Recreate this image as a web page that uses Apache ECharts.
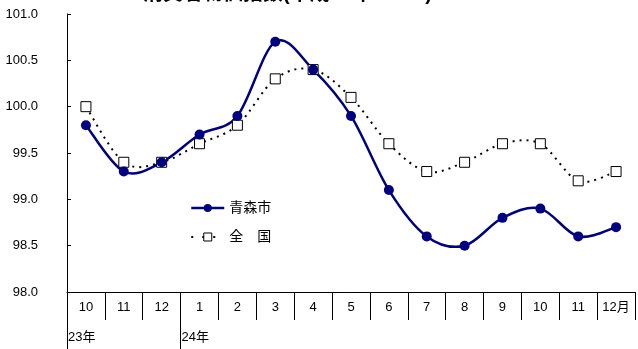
<!DOCTYPE html>
<html>
<head>
<meta charset="utf-8">
<script src="https://cdn.jsdelivr.net/npm/echarts@6/dist/echarts.min.js"></script>
<style>
  html, body { margin: 0; padding: 0; background: #fff; }
  #chart { width: 638px; height: 349px; }
</style>
</head>
<body>
<div id="chart"></div>
<script>
// Consumer price index, Aomori city vs. national
const months = ['10', '11', '12', '1', '2', '3', '4', '5', '6', '7', '8', '9', '10', '11', '12月'];
// year markers sit on the category boundaries (16 boundaries for 15 months)
const yearMarks = ['23年', '', '', '24年', '', '', '', '', '', '', '', '', '', '', '', ''];
const aomori = [99.8, 99.3, 99.4, 99.7, 99.9, 100.7, 100.4, 99.9, 99.1, 98.6, 98.5, 98.8, 98.9, 98.6, 98.7];
const national = [100.0, 99.4, 99.4, 99.6, 99.8, 100.3, 100.4, 100.1, 99.6, 99.3, 99.4, 99.6, 99.6, 99.2, 99.3];
const seriesNames = ['青森市', '全　国'];
const titleText = '消費者物価指数(平成22年＝100)';

const FONT = '"Liberation Sans", Arial, "Noto Sans CJK JP", sans-serif';
const NAVY = '#000080';
const chart = echarts.init(document.getElementById('chart'), null, { renderer: 'canvas' });

const grid = { left: 67, top: 14, width: 577, height: 278 };

// Catmull-Rom spline through the projected points, written as cubic Beziers
function splinePath(values, api) {
  const pts = values.map((v, i) => api.coord([i, v]));
  let d = 'M' + pts[0][0] + ' ' + pts[0][1];
  for (let i = 0; i < pts.length - 1; i++) {
    const p0 = pts[i - 1] || pts[i];
    const p1 = pts[i];
    const p2 = pts[i + 1];
    const p3 = pts[i + 2] || p2;
    const c1x = p1[0] + (p2[0] - p0[0]) / 6, c1y = p1[1] + (p2[1] - p0[1]) / 6;
    const c2x = p2[0] - (p3[0] - p1[0]) / 6, c2y = p2[1] - (p3[1] - p1[1]) / 6;
    d += ' C' + c1x + ' ' + c1y + ' ' + c2x + ' ' + c2y + ' ' + p2[0] + ' ' + p2[1];
  }
  return d;
}

function curveSeries(values, style, z) {
  return {
    type: 'custom',
    coordinateSystem: 'cartesian2d',
    xAxisIndex: 0,
    yAxisIndex: 0,
    silent: true,
    z: z,
    data: [[0, values[0]]],
    renderItem: (params, api) => ({
      type: 'path',
      shape: { pathData: splinePath(values, api) },
      style: Object.assign({ fill: null }, style)
    })
  };
}

chart.setOption({
  animation: false,
  backgroundColor: '#fff',
  textStyle: { fontFamily: FONT, color: '#000' },
  title: {
    text: titleText,
    left: 143,
    top: -16,
    padding: 0,
    textStyle: { fontFamily: FONT, fontSize: 20, fontWeight: 'bold', color: '#000' }
  },
  legend: {
    orient: 'vertical',
    left: 190,
    top: 201,
    padding: 0,
    itemGap: 15,
    itemWidth: 33,
    itemHeight: 10,
    textStyle: { fontFamily: FONT, fontSize: 14, color: '#000' },
    data: [
      {
        name: seriesNames[0],
        lineStyle: { opacity: 1, color: NAVY, width: 2.5 },
        itemStyle: { color: NAVY }
      },
      {
        name: seriesNames[1],
        lineStyle: { opacity: 1, color: '#000', width: 2, type: [2, 9] },
        itemStyle: { color: '#fff', borderColor: '#000', borderWidth: 1 }
      }
    ]
  },
  grid: [grid],
  xAxis: [
    {
      type: 'category',
      data: months,
      position: 'bottom',
      offset: 0,
      boundaryGap: true,
      axisLine: { show: true, lineStyle: { color: '#000', width: 1 } },
      axisTick: { show: true, interval: 0, length: 28, lineStyle: { color: '#000', width: 1 } },
      axisLabel: { color: '#000', fontSize: 13, margin: 9, fontFamily: FONT, interval: 0 }
    },
    {
      // year labels and the long year-boundary lines
      type: 'category',
      data: yearMarks,
      position: 'bottom',
      offset: 0,
      boundaryGap: false,
      axisLine: { show: false },
      axisTick: {
        show: true,
        length: 58,
        interval: (i) => yearMarks[i] !== '',
        lineStyle: { color: '#000' }
      },
      axisLabel: {
        interval: 0,
        align: 'left',
        margin: 39,
        padding: [0, 0, 0, 1],
        color: '#000',
        fontSize: 13,
        fontFamily: FONT
      }
    }
  ],
  yAxis: {
    type: 'value',
    min: 98,
    max: 101,
    interval: 0.5,
    splitLine: { show: false },
    axisLine: { show: true, lineStyle: { color: '#000', width: 1 } },
    axisTick: { show: true, inside: true, length: 4, lineStyle: { color: '#000' } },
    axisLabel: {
      color: '#000',
      fontSize: 13,
      margin: 29,
      fontFamily: FONT,
      formatter: (v) => v.toFixed(1)
    }
  },
  series: [
    curveSeries(national, { stroke: '#000', lineWidth: 2, lineDash: [2, 5] }, 1),
    curveSeries(aomori, { stroke: NAVY, lineWidth: 2.5 }, 2),
    {
      name: seriesNames[1],
      type: 'line',
      data: national,
      symbol: 'rect',
      symbolSize: 10,
      z: 3,
      lineStyle: { opacity: 0 },
      itemStyle: { color: '#fff', borderColor: '#000', borderWidth: 1 }
    },
    {
      name: seriesNames[0],
      type: 'line',
      data: aomori,
      symbol: 'circle',
      symbolSize: 10,
      z: 4,
      lineStyle: { opacity: 0 },
      itemStyle: { color: NAVY }
    }
  ]
});
</script>
</body>
</html>
